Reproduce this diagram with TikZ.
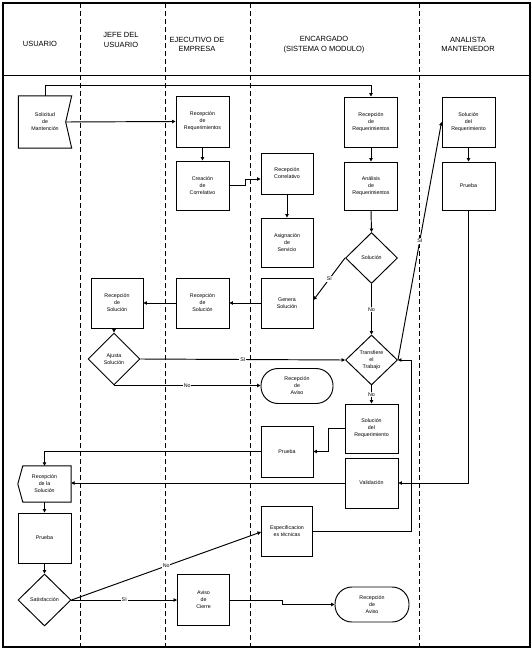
\documentclass[tikz,border=0pt]{standalone}
\usepackage{fontspec}
\setmainfont{Liberation Sans}
\usetikzlibrary{shapes.geometric,arrows.meta}
\begin{document}
\begin{tikzpicture}[x=1pt,y=-1pt,
 every node/.style={font=\fontsize{5.3}{7}\selectfont, align=center, inner sep=0pt},
 box/.style={draw, line width=0.95pt},
 dia/.style={draw, line width=0.95pt, diamond, minimum width=52pt, minimum height=51pt},
 term/.style={draw, line width=0.95pt, rounded corners=17pt, minimum height=35pt},
 conn/.style={line width=0.95pt, -{Triangle[length=3.5pt,width=3.5pt]}},
 lbl/.style={fill=white, inner sep=0.8pt},
 lane/.style={line width=0.95pt, dash pattern=on 5pt off 3pt},
 hdr/.style={font=\fontsize{7.5}{9.5}\selectfont}]
\useasboundingbox (0,0) rectangle (532,658);
% frame, header, lanes
\draw[line width=1.1pt] (3,3) rectangle (530,647);
\draw[line width=0.95pt] (3,75.5) -- (530,75.5);
\draw[lane] (80,3) -- (80,647);
\draw[lane] (165,3) -- (165,647);
\draw[lane] (250,3) -- (250,647);
\draw[lane] (419,3) -- (419,647);
\node[hdr] (h1) at (40,44) {USUARIO};
\node[hdr] (h2) at (121,40) {JEFE DEL\\USUARIO};
\node[hdr] (h3) at (197,44.5) {EJECUTIVO DE\\EMPRESA};
\node[hdr] (h4) at (324,44.5) {ENCARGADO\\(SISTEMA O MODULO)};
\node[hdr] (h5) at (468,44.5) {ANALISTA\\MANTENEDOR};
% special shapes
\node[minimum width=53pt, minimum height=52pt] (sol) at (45,122) {Solicitud\\de\\Mantención};
\draw[line width=0.95pt] (sol.north west) -- (sol.north east) -- ([xshift=-6pt]sol.east) -- (sol.south east) -- (sol.south west) -- cycle;
\node[minimum width=53pt, minimum height=36pt] (rls) at (44.5,484) {Recepción\\de la\\Solución};
\draw[line width=0.95pt] ([xshift=5pt]rls.north west) -- (rls.north east) -- (rls.south east) -- ([xshift=5pt]rls.south west) -- (rls.west) -- cycle;
% boxes
\node[box, minimum width=53pt, minimum height=51pt] (rre) at (202.5,121.5) {Recepción\\de\\Requerimientos};
\node[box, minimum width=53pt, minimum height=49pt] (cc) at (202.5,185.5) {Creación\\de\\Correlativo};
\node[box, minimum width=52pt, minimum height=41pt] (rc) at (287,173.5) {Recepción\\Correlativo};
\node[box, minimum width=52pt, minimum height=49pt] (as) at (287,242.5) {Asignación\\de\\Servicio};
\node[box, minimum width=53pt, minimum height=50pt] (rrn) at (371,122) {Recepción\\de\\Requerimientos};
\node[box, minimum width=53pt, minimum height=48pt] (an) at (371,186) {Análisis\\de\\Requerimientos};
\node[dia] (dsol) at (371.5,258) {Solución};
\node[box, minimum width=52pt, minimum height=50pt] (gs) at (287,303) {Genera\\Solución};
\node[box, minimum width=53pt, minimum height=50pt] (rse) at (202.5,303) {Recepción\\de\\Solución};
\node[box, minimum width=52pt, minimum height=50pt] (rsj) at (117,303) {Recepción\\de\\Solución};
\node[dia, minimum height=52pt] (daj) at (114,359) {Ajusta\\Solución};
\node[term, minimum width=72pt] (ra1) at (297,386) {Recepción\\de\\Aviso};
\node[dia, minimum height=50pt] (dtr) at (371.5,360) {Transfiere\\el\\Trabajo};
\node[box, minimum width=53pt, minimum height=49pt] (ssr) at (371.5,428.5) {Solución\\del\\Requerimiento};
\node[box, minimum width=52pt, minimum height=51pt] (pe) at (287,451.5) {Prueba};
\node[box, minimum width=53pt, minimum height=50pt] (val) at (371.5,483) {Validación};
\node[box, minimum width=51pt, minimum height=50pt] (esp) at (287,531) {Especificacion\\es técnicas};
\node[box, minimum width=53pt, minimum height=50pt] (sra) at (468.5,122) {Solución\\del\\Requerimiento};
\node[box, minimum width=53pt, minimum height=48pt] (pa) at (468.5,186) {Prueba};
\node[box, minimum width=53pt, minimum height=50pt] (pu) at (44.5,538) {Prueba};
\node[dia, minimum width=53pt, minimum height=52pt] (dsat) at (44.5,600) {Satisfacción};
\node[box, minimum width=52pt, minimum height=51pt] (ac) at (203.5,600) {Aviso\\de\\Cierre};
\node[term, minimum width=74pt] (ra2) at (372,604.5) {Recepción\\de\\Aviso};
% connectors
\draw[conn] ([xshift=-6pt]sol.east) -- (rre.west);
\draw[conn] (sol.north) -- ++(0,-10) -| (rrn.north);
\draw[conn] (rre.south) -- (cc.north);
\draw[conn] (cc.east) -- ++(16,0) |- ([yshift=-5.5pt]rc.west);
\draw[conn] (rc.south) -- (as.north);
\draw[conn] (rrn.south) -- (an.north);
\draw[conn] (an.south) -- (dsol.north);
\draw[conn] (dsol.west) -- ([yshift=3pt]gs.east) node[lbl,pos=0.5] {SI};
\draw[conn] (dsol.south) -- (dtr.north) node[lbl,pos=0.5] {No};
\draw[conn] (gs.west) -- (rse.east);
\draw[conn] (rse.west) -- (rsj.east);
\draw[conn] (rsj.south -| daj.north) -- (daj.north);
\draw[conn] (daj.east) -- (dtr.west) node[lbl,pos=0.5] {SI};
\draw[conn] (daj.south) -- (daj.south -| ra1.west) node[lbl,pos=0.5] {No};
\draw[conn] (dtr.east) -- (sra.west) node[lbl,pos=0.5] {SI};
\draw[conn] (esp.east) -- ++(98,0) |- (dtr.east);
\draw[conn] (dtr.south) -- (ssr.north) node[lbl,pos=0.5] {No};
\draw[conn] (ssr.west) -- ++(-16,0) |- (pe.east);
\draw[conn] (pe.west) -| (rls.north);
\draw[conn] (val.west) -- (val.west -| rls.east);
\draw[conn] (sra.south) -- (pa.north);
\draw[conn] (pa.south) |- (val.east);
\draw[conn] (rls.south) -- (pu.north);
\draw[conn] (pu.south) -- (dsat.north);
\draw[conn] (dsat.east) -- (ac.west) node[lbl,pos=0.5] {SI};
\draw[conn] (dsat.east) -- ([yshift=-1pt]esp.west) node[lbl,pos=0.5] {No};
\draw[conn] (ac.east) -- ++(52,0) |- (ra2.west);
\end{tikzpicture}
\end{document}
